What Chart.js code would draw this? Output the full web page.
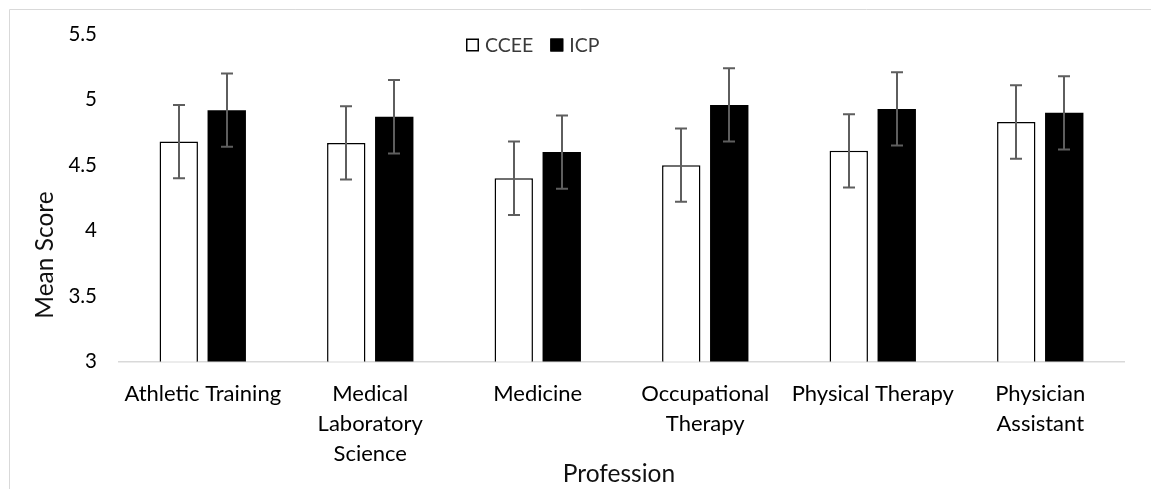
<!DOCTYPE html>
<html><head><meta charset="utf-8">
<script src="https://cdn.jsdelivr.net/npm/chart.js@4.4.1/dist/chart.umd.min.js"></script>
<style>html,body{margin:0;padding:0;background:#fff;overflow:hidden}#wrap{width:1151px;height:489px;position:relative}</style>
</head><body><div id="wrap"><canvas id="c" width="1151" height="489"></canvas></div>
<script>
const categories = ["Athletic Training", ["Medical", "Laboratory", "Science"], "Medicine", ["Occupational", "Therapy"], "Physical Therapy", ["Physician", "Assistant"]];
const seriesNames = ["CCEE", "ICP"];
const cceeMeans = [4.68, 4.67, 4.40, 4.50, 4.61, 4.83];
const icpMeans = [4.92, 4.87, 4.60, 4.96, 4.93, 4.90];
const cceeErrors = [0.28, 0.28, 0.28, 0.28, 0.28, 0.28];
const icpErrors = [0.28, 0.28, 0.28, 0.28, 0.28, 0.28];
const yTicks = [3, 3.5, 4, 4.5, 5, 5.5];
const xTitle = "Profession";
const yTitle = "Mean Score";

const FONT = "Lato";
const XTICK_SIZE = 22;
const YTICK_SIZE = 20.5;
const LEGEND_SIZE = 19.5;
const TITLE_SIZE = 24.5;

const errorBars = {
  id: 'errorBars',
  afterDatasetsDraw(chart) {
    const ctx = chart.ctx, ys = chart.scales.y;
    chart.data.datasets.forEach((ds, i) => {
      const meta = chart.getDatasetMeta(i);
      meta.data.forEach((bar, j) => {
        const v = ds.data[j], e = ds.errors[j];
        const top = ys.getPixelForValue(v + e), bot = ys.getPixelForValue(v - e);
        const x = Math.round(bar.x);
        ctx.save();
        ctx.strokeStyle = '#5e5e5e';
        ctx.lineWidth = 2;
        ctx.beginPath();
        ctx.moveTo(x, top); ctx.lineTo(x, bot);
        ctx.moveTo(x - 6, top); ctx.lineTo(x + 6, top);
        ctx.moveTo(x - 6, bot); ctx.lineTo(x + 6, bot);
        ctx.stroke();
        ctx.restore();
      });
    });
  }
};

const decor = {
  id: 'decor',
  afterDraw(chart) {
    const ctx = chart.ctx;
    ctx.save();
    ctx.strokeStyle = '#d9d9d9';
    ctx.lineWidth = 1;
    ctx.beginPath();
    ctx.moveTo(9.5, chart.height + 2); ctx.lineTo(9.5, 9.5); ctx.lineTo(chart.width + 2, 9.5);
    ctx.stroke();
    ctx.fillStyle = '#111';
    ctx.font = TITLE_SIZE + 'px ' + FONT;
    ctx.textAlign = 'center';
    ctx.textBaseline = 'middle';
    ctx.fillText(xTitle, 619, 474);
    ctx.translate(45, 255);
    ctx.rotate(-Math.PI / 2);
    ctx.fillText(yTitle, 0, 0);
    ctx.restore();
    ctx.save();
    ctx.font = LEGEND_SIZE + 'px ' + FONT;
    ctx.textBaseline = 'middle';
    ctx.textAlign = 'left';
    let x = 466;
    const cy = 45;
    chart.data.datasets.forEach((ds) => {
      ctx.fillStyle = ds.backgroundColor;
      ctx.fillRect(x, cy - 6.5, 13, 13);
      ctx.strokeStyle = '#000';
      ctx.lineWidth = 1.5;
      ctx.strokeRect(x + 0.75, cy - 5.75, 11.5, 11.5);
      ctx.fillStyle = '#3a3a3a';
      ctx.fillText(ds.label, x + 19, cy + 1);
      x += 19 + ctx.measureText(ds.label).width + 17;
    });
    ctx.restore();
  }
};

new Chart(document.getElementById('c'), {
  type: 'bar',
  data: {
    labels: categories,
    datasets: [
      { label: seriesNames[0], data: cceeMeans, errors: cceeErrors, backgroundColor: '#ffffff', borderColor: '#000000', borderWidth: 1.5,
        categoryPercentage: 0.573, barPercentage: 0.8 },
      { label: seriesNames[1], data: icpMeans, errors: icpErrors, backgroundColor: '#000000', borderColor: '#000000', borderWidth: 0,
        categoryPercentage: 0.573, barPercentage: 0.8 }
    ]
  },
  options: {
    responsive: false,
    animation: false,
    devicePixelRatio: 1,
    layout: { padding: { top: 31, left: 0, right: 27, bottom: 0 } },
    plugins: { legend: { display: false }, tooltip: { enabled: false } },
    scales: {
      x: {
        grid: { display: false, drawTicks: false },
        border: { display: true, color: '#d9d9d9', width: 1.5 },
        ticks: { color: '#000', font: { family: FONT, size: XTICK_SIZE, lineHeight: 30 / XTICK_SIZE }, padding: 17, maxRotation: 0, autoSkip: false },
        afterFit(s) { s.height = 127.5; }
      },
      y: {
        min: yTicks[0], max: yTicks[yTicks.length - 1],
        grid: { display: false, drawTicks: false },
        border: { display: false },
        afterBuildTicks(s) { s.ticks = yTicks.map(v => ({ value: v })); },
        ticks: { color: '#000', font: { family: FONT, size: YTICK_SIZE }, padding: 22, callback: v => String(v) },
        afterFit(s) { s.width = 119; }
      }
    }
  },
  plugins: [errorBars, decor]
});
</script></body></html>
